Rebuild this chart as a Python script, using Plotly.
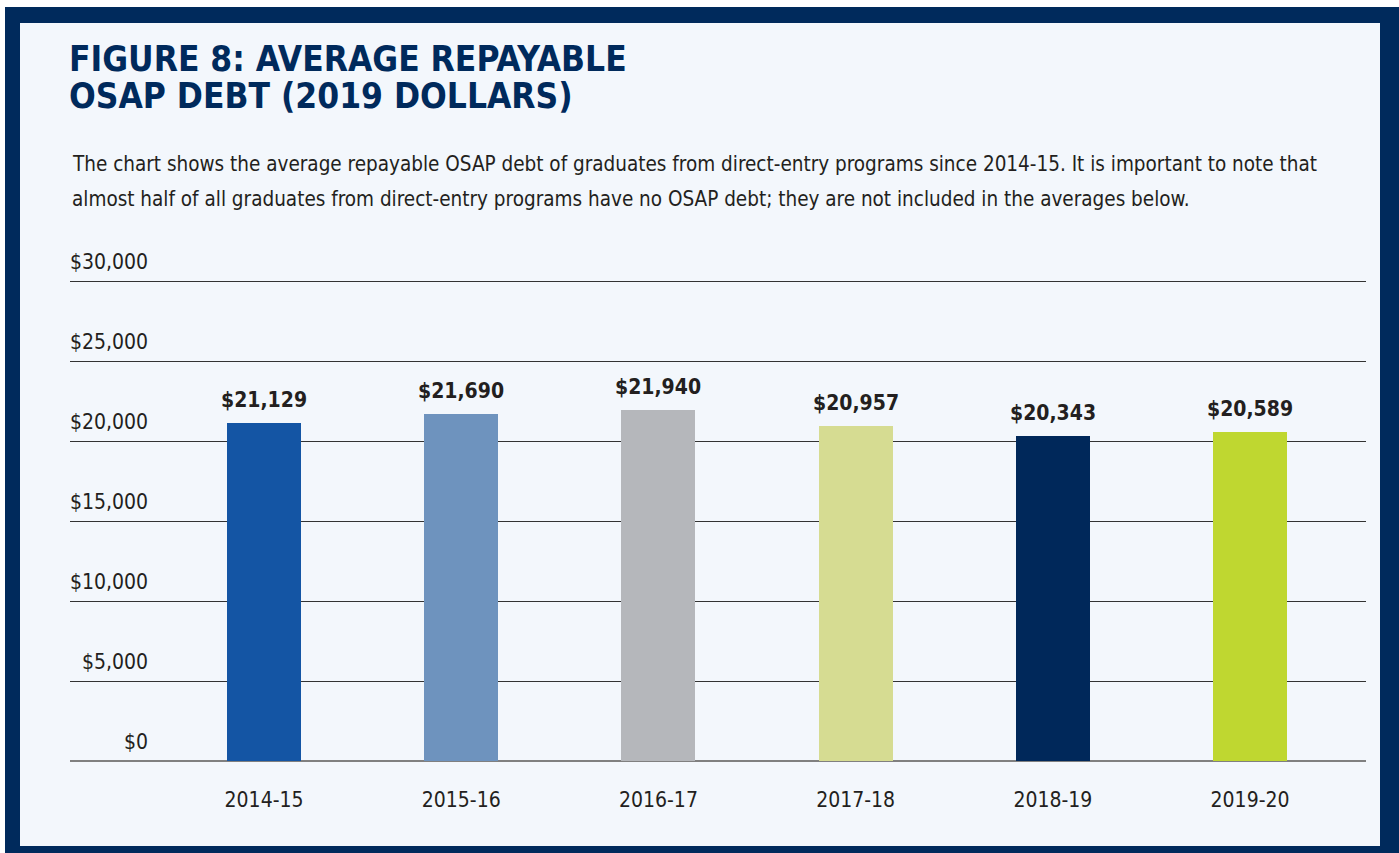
import plotly.graph_objects as go

categories = ["2014-15", "2015-16", "2016-17", "2017-18", "2018-19", "2019-20"]
values = [21129, 21690, 21940, 20957, 20343, 20589]
value_labels = ["$21,129", "$21,690", "$21,940", "$20,957", "$20,343", "$20,589"]
bar_colors = ["#1455a4", "#6e93be", "#b5b7bb", "#d6dc92", "#00285a", "#bfd730"]
tick_values = [0, 5000, 10000, 15000, 20000, 25000, 30000]
tick_labels = ["$0", "$5,000", "$10,000", "$15,000", "$20,000", "$25,000", "$30,000"]
title_lines = ["FIGURE 8: AVERAGE REPAYABLE", "OSAP DEBT (2019 DOLLARS)"]
subtitle_lines = [
    "The chart shows the average repayable OSAP debt of graduates from direct-entry programs since 2014-15. It is important to note that",
    "almost half of all graduates from direct-entry programs have no OSAP debt; they are not included in the averages below.",
]

W, H = 1399, 853
L, R, T, B = 70, 1366, 265, 761
YMAX = 31000
NAVY = "#002a5c"
BG = "#f3f7fc"
TXT = "#231f20"
FONT = "DejaVu Sans Condensed, Liberation Sans Narrow, sans-serif"

def px(x):
    return (x - L) / (R - L)

def py(y):
    return (B - y) / (B - T)

fig = go.Figure()
fig.add_trace(go.Bar(
    x=list(range(len(categories))), y=values,
    marker=dict(color=bar_colors, line=dict(width=0)),
    width=0.375, hoverinfo="skip",
))

shapes = [
    dict(type="rect", xref="paper", yref="paper", x0=px(5), x1=px(1400), y0=py(854), y1=py(7),
         fillcolor=NAVY, line=dict(width=0), layer="below"),
    dict(type="rect", xref="paper", yref="paper", x0=px(20), x1=px(1380), y0=py(846), y1=py(23),
         fillcolor=BG, line=dict(width=0), layer="below"),
]

annotations = []
for i, line in enumerate(title_lines):
    annotations.append(dict(text=line, xref="paper", yref="paper",
         x=px(67), y=py(59 + 37 * i), xanchor="left", yanchor="middle", align="left", showarrow=False,
         font=dict(family=FONT, size=35, color=NAVY, weight="bold")))
for i, line in enumerate(subtitle_lines):
    annotations.append(dict(text=line, xref="paper", yref="paper",
         x=px(70), y=py(164 + 35 * i), xanchor="left", yanchor="middle", align="left",
         showarrow=False, font=dict(family=FONT, size=20.5, color=TXT)))
for v, lab in zip(tick_values, tick_labels):
    annotations.append(dict(text=lab, xref="paper", yref="y", x=px(150), y=v, xanchor="right",
                            yanchor="bottom", yshift=5, showarrow=False,
                            font=dict(family=FONT, size=21, color=TXT)))
for i, (v, lab) in enumerate(zip(values, value_labels)):
    annotations.append(dict(text=lab, x=i, y=v, xref="x", yref="y", xanchor="center",
                            yanchor="bottom", yshift=9, showarrow=False,
                            font=dict(family=FONT, size=21, color=TXT, weight="bold")))

fig.update_layout(
    width=W, height=H,
    margin=dict(l=L, r=W - R, t=T, b=H - B, pad=0),
    paper_bgcolor="white", plot_bgcolor="rgba(0,0,0,0)",
    showlegend=False, bargap=0,
    shapes=shapes, annotations=annotations,
    font=dict(family=FONT, color=TXT),
)
fig.update_xaxes(range=[-0.984, 5.588], tickvals=list(range(len(categories))), ticktext=categories,
                 showgrid=False, zeroline=False, showline=False, ticks="",
                 tickfont=dict(family=FONT, size=21, color=TXT), ticklabelstandoff=24)
fig.update_yaxes(range=[0, YMAX], tickvals=tick_values, showticklabels=False,
                 showgrid=True, gridcolor="#333333", gridwidth=1.4, zeroline=True,
                 zerolinecolor="#808080", zerolinewidth=2, showline=False)

fig.write_html("out.html", config={"displayModeBar": False},
               post_script="document.body.style.margin='0';")
